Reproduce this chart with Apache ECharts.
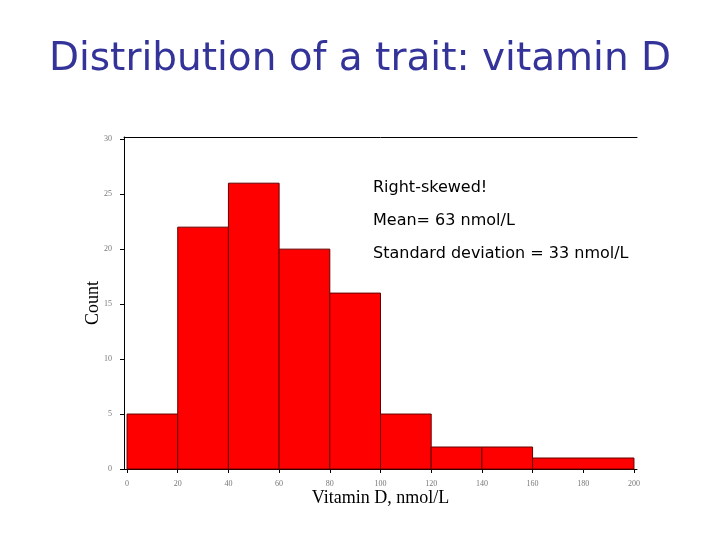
<!DOCTYPE html>
<html><head><meta charset="utf-8">
<script src="https://cdn.jsdelivr.net/npm/echarts@6/dist/echarts.min.js"></script>
<style>html,body{margin:0;padding:0;background:#fff}#c{width:720px;height:540px}</style>
</head><body><div id="c"></div>
<script>
const binStarts = [0, 20, 40, 60, 80, 100, 120, 140, 160];
const binEnds   = [20, 40, 60, 80, 100, 120, 140, 160, 200];
const counts    = [5, 22, 26, 20, 16, 5, 2, 2, 1];
const xTicks = [0, 20, 40, 60, 80, 100, 120, 140, 160, 180, 200];
const yTicks = [0, 5, 10, 15, 20, 25, 30];
const notes = ['Right-skewed!', 'Mean= 63 nmol/L', 'Standard deviation = 33 nmol/L'];

const chart = echarts.init(document.getElementById('c'));
const data = counts.map((c, i) => [binStarts[i], binEnds[i], c]);
chart.setOption({
  animation: false,
  title: {
    text: 'Distribution of a trait: vitamin D',
    left: 'center', top: 35,
    textStyle: { color: '#333399', fontFamily: 'DejaVu Sans', fontSize: 39, fontWeight: 'normal' }
  },
  grid: { left: 124, right: 83, top: 137, bottom: 71 },
  xAxis: [{
    type: 'value', min: -1.2, max: 201.2,
    name: 'Vitamin D, nmol/L', nameLocation: 'middle', nameGap: 20, nameMoveOverlap: false,
    nameTextStyle: { fontFamily: 'Liberation Serif', fontSize: 18, color: '#000' },
    splitLine: { show: false },
    axisLine: { onZero: false, lineStyle: { color: '#000', width: 1 } },
    axisTick: { customValues: xTicks, length: 4, lineStyle: { color: '#000' } },
    axisLabel: { customValues: xTicks, fontSize: 8, color: '#777', margin: 11, fontFamily: 'Liberation Serif' }
  }, {
    type: 'value', position: 'top', min: -1.2, max: 201.2,
    axisLine: { show: true, onZero: false, lineStyle: { color: '#000', width: 1 } },
    axisTick: { show: false }, axisLabel: { show: false }, splitLine: { show: false }
  }],
  yAxis: {
    type: 'value', min: 0, max: 30.2,
    name: 'Count', nameLocation: 'middle', nameGap: 22, nameMoveOverlap: false,
    nameTextStyle: { fontFamily: 'Liberation Serif', fontSize: 18, color: '#000' },
    splitLine: { show: false },
    axisLine: { show: true, onZero: false, lineStyle: { color: '#000', width: 1 } },
    axisTick: { show: true, customValues: yTicks, length: 4, lineStyle: { color: '#000' } },
    axisLabel: { customValues: yTicks, fontSize: 8, color: '#777', margin: 12, fontFamily: 'Liberation Serif' }
  },
  series: [{
    type: 'custom',
    data: data,
    encode: { x: [0, 1], y: 2 },
    renderItem: function (params, api) {
      const p0 = api.coord([api.value(0), 0]);
      const p1 = api.coord([api.value(1), api.value(2)]);
      return {
        type: 'rect',
        shape: { x: p0[0], y: p1[1], width: p1[0] - p0[0], height: p0[1] - p1[1] },
        style: { fill: '#ff0000', stroke: '#660000', lineWidth: 1 }
      };
    }
  }],
  graphic: notes.map((t, i) => ({
    type: 'text', left: 373, top: 180 + i * 33,
    style: { text: t, fontFamily: 'DejaVu Sans', fontSize: 16, fill: '#000' }
  }))
});
</script></body></html>
